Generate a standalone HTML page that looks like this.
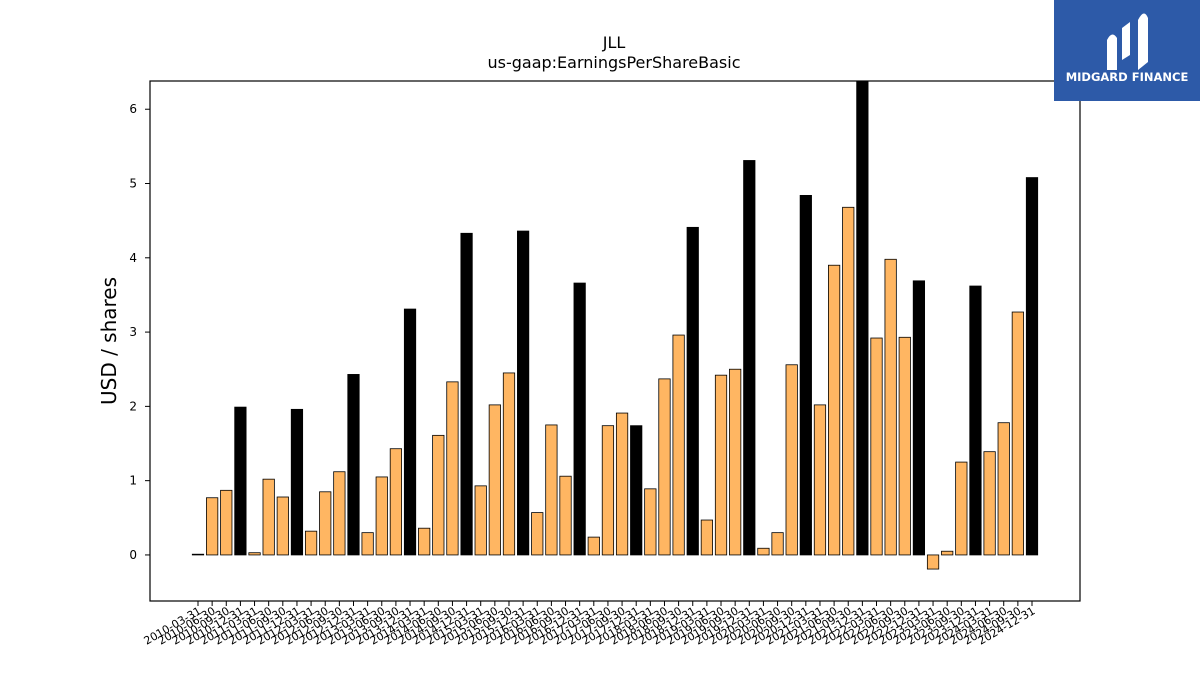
<!DOCTYPE html>
<html><head><meta charset="utf-8"><style>
body{margin:0;background:#fff;width:1200px;height:675px;overflow:hidden;font-family:"DejaVu Sans","Liberation Sans",sans-serif}
</style></head><body>
<svg id="chart" width="1200" height="675" xmlns="http://www.w3.org/2000/svg">
<text x="614" y="48" text-anchor="middle" font-size="16">JLL</text>
<text x="614" y="68" text-anchor="middle" font-size="16">us-gaap:EarningsPerShareBasic</text>
<text transform="translate(116,341) rotate(-90)" text-anchor="middle" font-size="20">USD / shares</text>
<defs><clipPath id="pc"><rect x="150" y="81" width="930" height="520"/></clipPath></defs>
<g id="bars" clip-path="url(#pc)"></g>
<g id="yticks"></g>
<g id="xticks"></g>
<rect x="150" y="81" width="930" height="520" fill="none" stroke="#000" stroke-width="1.2"/>
<g>
<rect x="1054" y="0" width="146" height="101" fill="#2d5aa8"/>
<path d="M1107 70 L1107 40 Q1112 30 1117 38 L1117 70 Z M1122 60 L1122 28 L1130 22 L1130 55 Z M1138 70 L1138 20 Q1144 8 1148 18 L1148 62 Z" fill="#fff"/>
<text x="1127" y="81" text-anchor="middle" font-size="11.5" font-weight="bold" fill="#fff">MIDGARD FINANCE</text>
</g>
</svg>
<script>
const values=[0.01,0.77,0.87,1.99,0.03,1.02,0.78,1.96,0.32,0.85,1.12,2.43,0.30,1.05,1.43,3.31,0.36,1.61,2.33,4.33,0.93,2.02,2.45,4.36,0.57,1.75,1.06,3.66,0.24,1.74,1.91,1.74,0.89,2.37,2.96,4.41,0.47,2.42,2.50,5.31,0.09,0.30,2.56,4.84,2.02,3.90,4.68,6.65,2.92,3.98,2.93,3.69,-0.19,0.05,1.25,3.62,1.39,1.78,3.27,5.08];
const annual=[1,0,0,1,0,0,0,1,0,0,0,1,0,0,0,1,0,0,0,1,0,0,0,1,0,0,0,1,0,0,0,1,0,0,0,1,0,0,0,1,0,0,0,1,0,0,0,1,0,0,0,1,0,0,0,1,0,0,0,1];
const labels=[];
for(let y=2010;y<=2024;y++){for(const d of ["03-31","06-30","09-30","12-31"])labels.push(y+"-"+d);}
const yTicks=[0,1,2,3,4,5,6];
const NS="http://www.w3.org/2000/svg";
const yMin=-0.62,yMax=6.38,plotTop=81,plotBot=601;
const ys=v=>plotBot-(v-yMin)/(yMax-yMin)*(plotBot-plotTop);
const x0=198,x1=1032;
const xs=i=>x0+i*(x1-x0)/(values.length-1);
const bw=11.4;
const bars=document.getElementById('bars'),yt=document.getElementById('yticks'),xt=document.getElementById('xticks');
values.forEach((v,i)=>{
 const r=document.createElementNS(NS,'rect');
 const a=ys(Math.max(v,0)),b=ys(Math.min(v,0));
 r.setAttribute('x',xs(i)-bw/2);r.setAttribute('y',a);r.setAttribute('width',bw);r.setAttribute('height',Math.max(b-a,0.5));
 r.setAttribute('fill',annual[i]?'#000':'#ffb662');r.setAttribute('stroke','#000');r.setAttribute('stroke-width','0.8');
 
 
 bars.appendChild(r);
 const t=document.createElementNS(NS,'line');
 t.setAttribute('x1',xs(i));t.setAttribute('x2',xs(i));t.setAttribute('y1',plotBot);t.setAttribute('y2',plotBot+5);t.setAttribute('stroke','#000');
 
 
 xt.appendChild(t);
 const l=document.createElementNS(NS,'text');
 l.setAttribute('transform','translate('+(xs(i)+4)+','+(plotBot+12)+') rotate(-30)');
 l.setAttribute('text-anchor','end');l.setAttribute('font-size','11');
 l.textContent=labels[i];
 
 
 xt.appendChild(l);
});
yTicks.forEach(v=>{
 const t=document.createElementNS(NS,'line');
 t.setAttribute('x1',145);t.setAttribute('x2',150);t.setAttribute('y1',ys(v));t.setAttribute('y2',ys(v));t.setAttribute('stroke','#000');
 
 
 yt.appendChild(t);
 const l=document.createElementNS(NS,'text');
 l.setAttribute('x',137);l.setAttribute('y',ys(v)+4);l.setAttribute('text-anchor','end');l.setAttribute('font-size','12');
 l.textContent=v;
 
 
 yt.appendChild(l);
});
</script>
</body></html>
